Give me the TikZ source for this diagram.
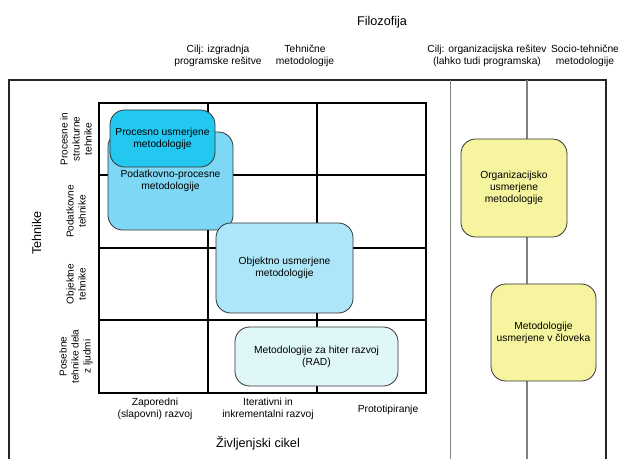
\documentclass[tikz,border=0pt]{standalone}
\usepackage{fontspec}
\setmainfont{Liberation Sans}
\usepackage{tikz}
\definecolor{procblue}{RGB}{35,200,240}
\definecolor{datablue}{RGB}{125,215,245}
\definecolor{objblue}{RGB}{172,230,248}
\definecolor{radblue}{RGB}{224,247,250}
\definecolor{orgyellow}{RGB}{246,244,158}

\begin{document}
\begin{tikzpicture}[x=0.75pt, y=-0.75pt,
    metbox/.style={draw=black!80, line width=0.6pt, rounded corners=11pt, align=center, inner sep=0pt, font=\fontsize{7.7}{9}\selectfont},
    smalllab/.style={align=center, inner sep=0pt, font=\fontsize{7.7}{9}\selectfont},
    rowlab/.style={align=center, inner sep=0pt, rotate=90, font=\fontsize{7.5}{9}\selectfont},
    biglab/.style={inner sep=0pt, font=\fontsize{9.5}{11}\selectfont}]
    \useasboundingbox (0,0) rectangle (618,459);

    % outer frame
    \draw[line width=1pt, black!85] (9,459) -- (9,80) -- (606,80) -- (606,459);
    \draw[line width=1pt, black!50] (450.5,80) -- (450.5,459);
    \draw[line width=1pt, black!50] (527,80) -- (527,459);

    % grid
    \draw[line width=0.8pt] (99,103) rectangle (426,393);
    \draw[line width=0.8pt] (208,103) -- (208,393);
    \draw[line width=0.8pt] (317,103) -- (317,393);
    \draw[line width=0.8pt] (99,175) -- (426,175);
    \draw[line width=0.8pt] (99,248) -- (426,248);
    \draw[line width=0.8pt] (99,320) -- (426,320);

    % methodologies
    \node[metbox, fill=datablue, minimum width=93.75pt, minimum height=73.5pt] (data) at (170.5,181) {Podatkovno-procesne\\metodologije};
    \node[metbox, fill=procblue, minimum width=78.75pt, minimum height=42.75pt] (proc) at (162.5,138.5) {Procesno usmerjene\\metodologije};
    \node[metbox, fill=objblue, minimum width=102.75pt, minimum height=67.5pt] (obj) at (284.5,268) {Objektno usmerjene\\metodologije};
    \node[metbox, fill=radblue, minimum width=122.25pt, minimum height=44.25pt] (rad) at (316.5,356.5) {Metodologije za hiter razvoj\\(RAD)};
    \node[metbox, fill=orgyellow, minimum width=79.5pt, minimum height=73.5pt] (org) at (514,188) {Organizacijsko\\usmerjene\\metodologije};
    \node[metbox, fill=orgyellow, minimum width=78.75pt, minimum height=72.75pt] (human) at (543.5,332.5) {Metodologije\\usmerjene v človeka};

    % techniques
    \node[biglab, rotate=90] (tech) at (36.7,233) {Tehnike};
    \node[rowlab] (row1) at (76,139) {Procesne in\\strukturne\\tehnike};
    \node[rowlab] (row2) at (76,211.5) {Podatkovne\\tehnike};
    \node[rowlab] (row3) at (76,284) {Objektne\\tehnike};
    \node[rowlab] (row4) at (76,356.5) {Posebne\\tehnike dela\\z ljudmi};

    % life cycle
    \node[smalllab] (col1) at (155,409) {Zaporedni\\(slapovni) razvoj};
    \node[smalllab] (col2) at (268,409) {Iterativni in\\inkrementalni razvoj};
    \node[smalllab] (col3) at (388,410) {Prototipiranje};
    \node[biglab] (cycle) at (258,443) {Življenjski cikel};

    % philosophy
    \node[biglab] (phil) at (382,22) {Filozofija};
    \node[smalllab] (goal1) at (218,56) {Cilj: izgradnja\\programske rešitve};
    \node[smalllab] (techmet) at (305,56) {Tehnične\\metodologije};
    \node[smalllab] (goal2) at (487,56) {Cilj: organizacijska rešitev\\(lahko tudi programska)};
    \node[smalllab] (sociomet) at (585,56) {Socio-tehnične\\metodologije};
\end{tikzpicture}
\end{document}
